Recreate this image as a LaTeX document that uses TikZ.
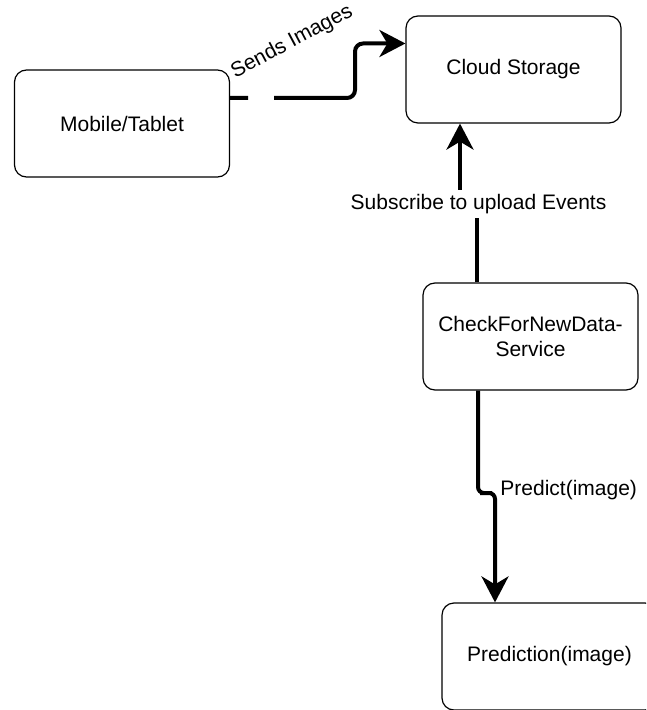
\documentclass[tikz,border=0pt]{standalone}
\usepackage{fontspec}
\setmainfont{Liberation Sans}
\usetikzlibrary{arrows.meta}

\begin{document}
\begin{tikzpicture}[x=0.5pt,y=-0.5pt,
  box/.style={draw,rounded corners=6pt,line width=0.6pt,minimum width=107.5pt,
    minimum height=53.5pt,align=center,font=\fontsize{10.5}{12.5}\selectfont},
  flow/.style={line width=2pt,-{Stealth[length=13pt,width=13.5pt,inset=4pt]}},
  lbl/.style={font=\fontsize{10.5}{12.5}\selectfont,inner sep=2pt}]
  % Fix the frame
  \clip (0,0) rectangle (646,710);

  % Draw the boxes
  \node[box] (mobile) at (122,123.5) {Mobile/Tablet};
  \node[box] (cloud) at (513.5,69.5) {Cloud Storage};
  \node[box] (check) at (530.5,336.5) {CheckForNewData-\\Service};
  \node[box] (pred) at (549.5,656.5) {Prediction(image)};

  % Draw the upload arrow
  \draw[flow,rounded corners=4pt,dash pattern=on 9pt off 13pt on 600pt off 1pt]
    ([yshift=12.75pt]mobile.east) -- (355,98) |- ([yshift=13pt]cloud.west);
  \node[lbl,rotate=28] (sends) at (292,42) {Sends Images};

  % Draw the subscribe arrow
  \draw[flow] ([xshift=-26.75pt]check.north) |- (468.5,204) -| ([xshift=-26.75pt]cloud.south);
  \node[lbl,fill=white] (subscribe) at (478.5,204) {Subscribe to upload Events};

  % Draw the predict arrow
  \draw[flow,rounded corners=3pt] ([xshift=-26.25pt]check.south) |- (486,493) -| ([xshift=-27.25pt]pred.north);
  \node[lbl,anchor=west] (predict) at (496,490) {Predict(image)};
\end{tikzpicture}
\end{document}
